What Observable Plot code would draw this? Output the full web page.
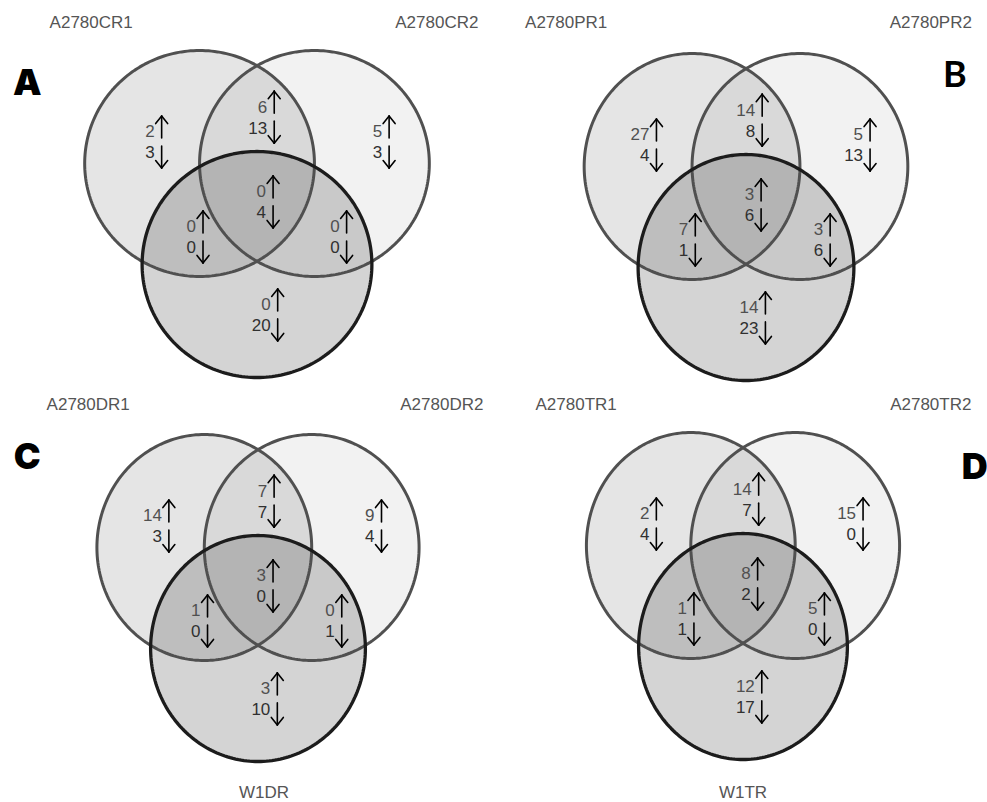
<!DOCTYPE html>
<html><head><meta charset="utf-8">
<script src="https://cdn.jsdelivr.net/npm/d3@7"></script>
<script src="https://cdn.jsdelivr.net/npm/@observablehq/plot@0.6"></script>
<style>html,body{margin:0;padding:0;background:#fff;overflow:hidden}svg{display:block}</style>
</head><body><div id="chart"></div>
<script>
// ---------- DATA ----------
const panels = ["A", "B", "C", "D"];
const setNamesA = ["A2780CR1", "A2780CR2", ""];
const setNamesB = ["A2780PR1", "A2780PR2", ""];
const setNamesC = ["A2780DR1", "A2780DR2", "W1DR"];
const setNamesD = ["A2780TR1", "A2780TR2", "W1TR"];
// regions: only1, 1∩2, only2, 1∩2∩3, 1∩3, 2∩3, only3
const regions = ["1", "12", "2", "123", "13", "23", "3"];
const upA   = [2, 6, 5, 0, 0, 0, 0];
const downA = [3, 13, 3, 4, 0, 0, 20];
const upB   = [27, 14, 5, 3, 7, 3, 14];
const downB = [4, 8, 13, 6, 1, 6, 23];
const upC   = [14, 7, 9, 3, 1, 0, 3];
const downC = [3, 7, 4, 0, 0, 1, 10];
const upD   = [2, 14, 15, 8, 1, 5, 12];
const downD = [4, 7, 0, 2, 1, 0, 17];

// ---------- LAYOUT (positions/styles) ----------
const names = {A: setNamesA, B: setNamesB, C: setNamesC, D: setNamesD};
const counts = {A: [upA, downA], B: [upB, downB], C: [upC, downC], D: [upD, downD]};
const layout = {
  A: {col: 0, row: 0, dx: 0,  dy: 1,  rx: 115,   ry: 113, labL: -166, labR: 180, bot: [0, -248], letter: [-230, 81], lf: "Inter", lw: 900},
  B: {col: 1, row: 0, dx: 2,  dy: -2, rx: 108,   ry: 113, labL: -178, labR: 187, bot: [0, -248], letter: [211, 89], lf: "Lato", lw: 700},
  C: {col: 0, row: 1, dx: 1,  dy: -1, rx: 107.5, ry: 113, labL: -169, labR: 185, bot: [7, -246], letter: [-230, 89], lf: "Inter", lw: 900},
  D: {col: 1, row: 1, dx: -1, dy: 1,  rx: 104.5, ry: 113, labL: -168, labR: 187, bot: [-1, -246], letter: [231, 79], lf: "Inter", lw: 900}
};
const circleUnits = [[-0.5, 0], [0.5, 0], [0, -0.894]];
const circleStyle = [
  {fillOpacity: 0.10, stroke: "#505050", strokeWidth: 3},
  {fillOpacity: 0.05, stroke: "#505050", strokeWidth: 3},
  {fillOpacity: 0.17, stroke: "#1c1c1c", strokeWidth: 3.3}
];
const anchor = {"1": [-0.83, 0.19], "12": [0.15, 0.41], "2": [1.15, 0.19], "123": [0.14, -0.34],
                "13": [-0.47, -0.65], "23": [0.78, -0.65], "3": [0.18, -1.34]};

const STEPS = 240;
const circlePts = [];
for (const p of panels) {
  const L = layout[p];
  circleUnits.forEach(([ux, uy], k) => {
    for (let i = 0; i < STEPS; i++) {
      const t = 2 * Math.PI * i / STEPS;
      circlePts.push({panel: p, circle: k, col: L.col, row: L.row,
        x: L.dx + (ux + Math.cos(t)) * L.rx, y: L.dy + uy * L.ry + Math.sin(t) * L.ry});
    }
  });
}

const cells = [];
const segs = [];
const AL = 22, GAP = 4, WX = 6, WY = 7.5;
for (const p of panels) {
  const L = layout[p];
  regions.forEach((r, i) => {
    const [ux, uy] = anchor[r];
    const ax = L.dx + ux * L.rx, my = L.dy + uy * L.ry;
    cells.push({panel: p, col: L.col, row: L.row, ax, my, up: counts[p][0][i], down: counts[p][1][i]});
    const ut = my + GAP + AL;
    segs.push({col: L.col, row: L.row, x1: ax, y1: my + GAP, x2: ax, y2: ut});
    segs.push({col: L.col, row: L.row, x1: ax, y1: ut, x2: ax - WX, y2: ut - WY});
    segs.push({col: L.col, row: L.row, x1: ax, y1: ut, x2: ax + WX, y2: ut - WY});
    const dt = my - GAP - AL;
    segs.push({col: L.col, row: L.row, x1: ax, y1: my - GAP, x2: ax, y2: dt});
    segs.push({col: L.col, row: L.row, x1: ax, y1: dt, x2: ax - WX, y2: dt + WY});
    segs.push({col: L.col, row: L.row, x1: ax, y1: dt, x2: ax + WX, y2: dt + WY});
  });
}

const setLabels = [];
const letters = [];
for (const p of panels) {
  const L = layout[p];
  const [n1, n2, n3] = names[p];
  setLabels.push({col: L.col, row: L.row, x: L.labL, y: 142, text: n1});
  setLabels.push({col: L.col, row: L.row, x: L.labR, y: 142, text: n2});
  if (n3) setLabels.push({col: L.col, row: L.row, x: L.bot[0], y: L.bot[1], text: n3});
  letters.push({col: L.col, row: L.row, x: L.letter[0], y: L.letter[1], text: p, font: L.lf, weight: L.lw});
}

const FONT = "'Liberation Sans', Arial, Helvetica, sans-serif";
const marks = [];
circleStyle.forEach((s, k) => {
  marks.push(Plot.line(circlePts.filter(d => d.circle === k), {
    x: "x", y: "y", z: "panel", fx: "col", fy: "row", curve: "linear-closed",
    fill: "black", fillOpacity: s.fillOpacity, stroke: "none"
  }));
});
circleStyle.forEach((s, k) => {
  marks.push(Plot.line(circlePts.filter(d => d.circle === k), {
    x: "x", y: "y", z: "panel", fx: "col", fy: "row", curve: "linear-closed",
    fill: "none", stroke: s.stroke, strokeWidth: s.strokeWidth
  }));
});
marks.push(Plot.link(segs, {x1: "x1", y1: "y1", x2: "x2", y2: "y2", fx: "col", fy: "row",
  stroke: "black", strokeWidth: 1.6, strokeLinecap: "round"}));
marks.push(Plot.text(cells, {x: d => d.ax - 7, y: d => d.my + 10, text: d => String(d.up), fx: "col", fy: "row",
  textAnchor: "end", fontSize: 17, fill: "#505050", fontFamily: FONT}));
marks.push(Plot.text(cells, {x: d => d.ax - 7, y: d => d.my - 11, text: d => String(d.down), fx: "col", fy: "row",
  textAnchor: "end", fontSize: 17, fill: "#303030", fontFamily: FONT}));
marks.push(Plot.text(setLabels, {x: "x", y: "y", text: "text", fx: "col", fy: "row",
  fontSize: 17, fill: "#555", fontFamily: FONT}));
for (const l of letters) {
  marks.push(Plot.text([l], {x: "x", y: "y", text: "text", fx: "col", fy: "row",
    fontSize: 36, fontWeight: l.weight, fill: "black", fontFamily: l.font + ", sans-serif"}));
}

const chart = Plot.plot({
  width: 987, height: 802,
  marginTop: 14, marginBottom: 24, marginLeft: 12, marginRight: 0,
  facetMarginTop: 0, facetMarginBottom: 0, facetMarginLeft: 0, facetMarginRight: 0,
  fx: {axis: null, padding: 0, domain: [0, 1]},
  fy: {axis: null, padding: 0, domain: [0, 1]},
  x: {axis: null, domain: [-243.75, 243.75]},
  y: {axis: null, domain: [-232, 150]},
  style: {background: "white", overflow: "visible"},
  marks
});
document.getElementById("chart").appendChild(chart);
</script>
</body></html>
